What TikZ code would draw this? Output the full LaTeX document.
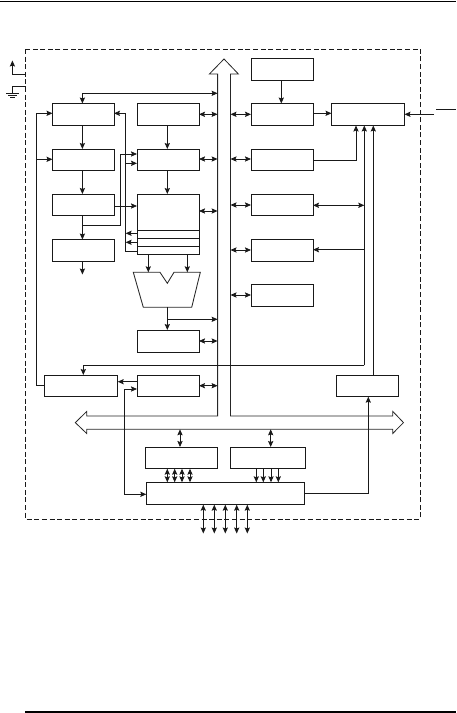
\documentclass[tikz,border=0pt]{standalone}
\usetikzlibrary{arrows.meta}
\tikzset{
  x=1pt,y=-1pt,
  blk/.style={draw=black!90,line width=0.9pt,inner sep=0pt,outer sep=0pt,anchor=north west},
  wire/.style={draw=black!90,line width=0.85pt},
  tip/.style={wire,-{Stealth[length=6pt,width=5.2pt,inset=1pt]}},
  bi/.style={wire,{Stealth[length=6pt,width=5.2pt,inset=1pt]}-{Stealth[length=6pt,width=5.2pt,inset=1pt]}},
  bus/.style={draw=black!85,line width=0.8pt},
  frame/.style={draw=black!90,line width=0.75pt,dash pattern=on 5pt off 2.6pt},
}
\newcommand{\blkat}[5]{\node[blk,minimum width=#4pt-#2pt,minimum height=#5pt-#3pt] (#1) at (#2,#3) {};}
\begin{document}
\begin{tikzpicture}
\useasboundingbox (0,0) rectangle (456,713);
% page rules
\draw[line width=1pt] (0,1.3) -- (456,1.3);
\draw[line width=1.6pt] (25,712) -- (456,712);
% frame
\draw[frame] (25.5,49) rectangle (420.3,519);
% power
\coordinate (pw) at (25.5,74.3); \coordinate (pwc) at (12.4,74.3); \coordinate (pwt) at (12.4,60.5);
\draw[tip] (pw) -- (pwc) -- (pwt);
\coordinate (gn) at (25.5,86.3); \coordinate (gnc) at (12.4,86.3); \coordinate (gnb) at (12.4,93);
\draw[wire] (gn) -- (gnc) -- (gnb);
\draw[wire] (6,93) -- (18.5,93) (8,95) -- (16.5,95) (10,97) -- (14.5,97);
% bus
\draw[bus] (217.6,416) -- (217.6,74) -- (209.4,74) -- (224,59) -- (238.4,74) -- (230.5,74) -- (230.5,416) -- (392.7,416) -- (392.7,411.3) -- (403.5,422.6) -- (392.7,433.5) -- (392.7,429.3) -- (86.7,429.3) -- (86.7,433.5) -- (75.3,422.6) -- (86.7,411.5) -- (86.7,416) -- cycle;
% left column
\blkat{a}{52.5}{103.5}{114}{125.5}
\blkat{b}{52.5}{149}{114}{170.5}
\blkat{c}{52.5}{194}{114}{215.5}
\blkat{d}{52.5}{239.5}{114}{261}
% middle column
\blkat{e}{137}{103.5}{199}{125.5}
\blkat{f}{137}{149}{199}{170.5}
\blkat{g}{137}{194}{199}{254.5}
\draw[wire] (137,230.3) -- (199,230.3) (137,238.5) -- (199,238.5) (137,246.5) -- (199,246.5);
\blkat{h}{137}{330}{199}{352.3}
\blkat{j}{137}{375}{199}{396.7}
\blkat{i}{44.3}{375}{117.7}{396.7}
% right column
\blkat{r0}{251}{58}{313}{80.5}
\blkat{r1}{251}{103.5}{313}{125.5}
\blkat{r2}{251}{149}{313}{170.5}
\blkat{r3}{251}{194}{313}{215.5}
\blkat{r4}{251}{239.5}{313}{261}
\blkat{r5}{251}{284.5}{313}{306.5}
\blkat{big}{331.5}{103.5}{404.5}{125.5}
\blkat{k}{336.7}{375}{398.3}{396.7}
% bottom
\blkat{n}{145.7}{447}{217.3}{468.7}
\blkat{o}{230.3}{447}{305.3}{468.7}
\blkat{p}{146.3}{482.3}{304.3}{504.7}
% ALU
\draw[bus,line width=0.85pt] (133.3,272.3) -- (160,272.3) -- (167.3,283.3) -- (174,272.3) -- (200.3,272.3) -- (191.7,307.3) -- (143.3,307.3) -- cycle;
% vertical flow, left column
\draw[tip] (a.south -| 82.4,0) -- (b.north -| 82.4,0);
\draw[tip] (b.south -| 82.4,0) -- (c.north -| 82.4,0);
\draw[tip] (c.south -| 82.4,0) -- (d.north -| 82.4,0);
\draw[tip] (d.south -| 82.4,0) -- (82.4,274.5);
% middle column
\draw[tip] (e.south -| 167.3,0) -- (f.north -| 167.3,0);
\draw[tip] (f.south -| 167.3,0) -- (g.north -| 167.3,0);
\draw[tip] (g.south -| 148.3,0) -- (148.3,272.3);
\draw[tip] (g.south -| 187.3,0) -- (187.3,272.3);
\draw[tip] (167.3,307.3) -- (h.north -| 167.3,0);
\draw[tip] (167.3,319.3) -- (217.6,319.3);
% top feedback
\draw[bi] (a.north -| 82.4,0) -- (82.4,93.3) -- (217.6,93.3);
% left feedback
\draw[tip] (i.west |- 0,385.7) -- (36.3,385.7) -- (36.3,113.3) -- (a.west |- 0,113.3);
\draw[tip] (36.3,159.3) -- (b.west |- 0,159.3);
% right-of-a rail
\draw[wire] (g.west |- 0,251.7) -- (125.3,251.7) -- (125.3,113.3);
\draw[tip] (125.3,113.3) -- (a.east |- 0,113.3);
\draw[tip] (125.3,163.3) -- (f.west |- 0,163.3);
\draw[tip] (g.west |- 0,233.3) -- (125.6,233.3);
\draw[tip] (g.west |- 0,242.3) -- (125.6,242.3);
% c outputs
\draw[tip] (82.4,225.3) -- (120.3,225.3) -- (120.3,154) -- (f.west |- 0,154);
\draw[tip] (c.east |- 0,206) -- (g.west |- 0,206);
% bus links, middle
\draw[bi] (e.east |- 0,114.3) -- (217.6,114.3);
\draw[bi] (f.east |- 0,159) -- (217.6,159);
\draw[bi] (g.east |- 0,211) -- (217.6,211);
\draw[bi] (h.east |- 0,341) -- (217.6,341);
\draw[bi] (j.east |- 0,385.7) -- (217.6,385.7);
% bus links, right
\draw[bi] (230.5,114.3) -- (r1.west |- 0,114.3);
\draw[bi] (230.5,159) -- (r2.west |- 0,159);
\draw[bi] (230.5,205) -- (r3.west |- 0,205);
\draw[bi] (230.5,250) -- (r4.west |- 0,250);
\draw[bi] (230.5,295) -- (r5.west |- 0,295);
% right side
\draw[tip] (r0.south -| 281.3,0) -- (r1.north -| 281.3,0);
\draw[tip] (r1.east |- 0,113.3) -- (big.west |- 0,113.3);
\draw[tip] (r2.east |- 0,160.3) -- (356,160.3) -- (big.south -| 356,0);
\draw[tip] (364.3,365.3) -- (big.south -| 364.3,0);
\draw[tip] (k.north -| 373.3,0) -- (big.south -| 373.3,0);
\draw[bi] (r3.east |- 0,205.3) -- (364.3,205.3);
\draw[tip] (364.3,249.7) -- (r4.east |- 0,249.7);
\coordinate (ext) at (434,114.3);
\draw[tip] (ext) -- (big.east |- 0,114.3);
\coordinate (ea) at (436,109.3); \coordinate (eb) at (456,109.3);
\draw[wire] (ea) -- (eb);
% reg line to i
\draw[tip] (364.3,365.3) -- (83.3,365.3) -- (i.north -| 83.3,0);
\draw[tip] (j.west |- 0,381.7) -- (i.east |- 0,381.7);
\draw[tip] (124.3,494.3) -- (124.3,389) -- (j.west |- 0,389);
\draw[tip] (124.3,494.3) -- (p.west |- 0,494.3);
\draw[tip] (p.east |- 0,493.3) -- (368.3,493.3) -- (k.south -| 368.3,0);
% port links
\draw[bi] (n.north -| 180,0) -- (180,429.3);
\draw[bi] (o.north -| 270.7,0) -- (270.7,429.3);
\foreach \x in {167.3,174.7,182,190} \draw[bi] (n.south -| \x,0) -- (p.north -| \x,0);
\foreach \x in {256.3,263.3,271,278.3} \draw[tip] (o.south -| \x,0) -- (p.north -| \x,0);
\foreach \x in {203.3,214.3,225.3,236.7,247.3} \draw[bi] (p.south -| \x,0) -- (\x,533.5);
\end{tikzpicture}
\end{document}
